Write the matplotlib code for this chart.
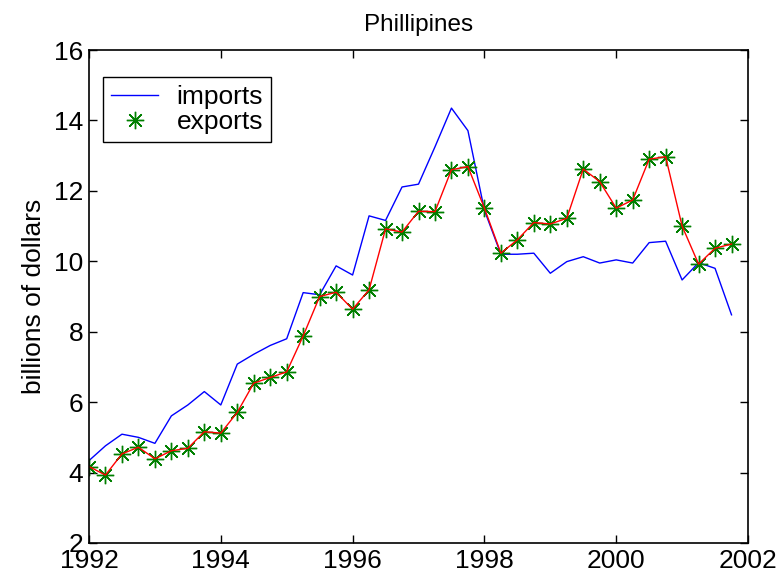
import matplotlib
matplotlib.use("Agg")
import matplotlib.pyplot as plt
import numpy as np

plt.rcParams['font.family'] = ['Liberation Sans', 'DejaVu Sans']

years = [1992 + 0.25 * i for i in range(40)]
imports = [4.34, 4.76, 5.09, 5.00, 4.83, 5.61, 5.92, 6.30, 5.92, 7.08,
           7.36, 7.61, 7.80, 9.11, 9.05, 9.87, 9.61, 11.29, 11.16, 12.11,
           12.19, 13.25, 14.35, 13.71, 11.45, 10.20, 10.20, 10.23, 9.66, 9.99,
           10.13, 9.95, 10.04, 9.95, 10.53, 10.57, 9.47, 9.96, 9.80, 8.48]
exports = [4.17, 3.93, 4.53, 4.72, 4.39, 4.62, 4.69, 5.16, 5.12, 5.71,
           6.54, 6.70, 6.86, 7.88, 9.00, 9.12, 8.64, 9.19, 10.92, 10.83,
           11.42, 11.41, 12.60, 12.69, 11.51, 10.23, 10.61, 11.10, 11.06, 11.22,
           12.62, 12.26, 11.51, 11.74, 12.90, 12.97, 11.00, 9.92, 10.37, 10.49]
xticks = [1992, 1994, 1996, 1998, 2000, 2002]
yticks = [2, 4, 6, 8, 10, 12, 14, 16]

fig = plt.figure(figsize=(7.82, 5.82), dpi=100)
ax = fig.add_axes([89/782, 1 - 543/582, (748-89)/782, (543-50)/582])

ax.plot(years, imports, color='#0000ff', lw=1.0, label='imports')
ax.plot(years, exports, linestyle='none', marker=(8, 2, 0), markersize=12.5,
        markeredgewidth=1.0, color='#008000', label='exports')
ax.plot(years, exports, color='#ff0000', lw=1.0)

ax.set_xlim(1992, 2002)
ax.set_ylim(2, 16)
ax.set_xticks(xticks)
ax.set_yticks(yticks)
ax.tick_params(direction='in', top=True, right=True, length=6, width=1,
               labelsize=19, pad=4)
for s in ax.spines.values():
    s.set_linewidth(1.2)
ax.set_title('Phillipines', fontsize=17.5, pad=14)
ax.set_ylabel('billions of dollars', fontsize=19, labelpad=6)

leg = ax.legend(loc='upper left', bbox_to_anchor=(0.021, 0.945), fontsize=19,
                fancybox=False, edgecolor='black', framealpha=1,
                numpoints=1, handlelength=1.8, borderpad=0.3, labelspacing=0.05,
                handletextpad=0.7, borderaxespad=0)
leg.get_frame().set_linewidth(1.0)

fig.savefig('out.png', dpi=100)
